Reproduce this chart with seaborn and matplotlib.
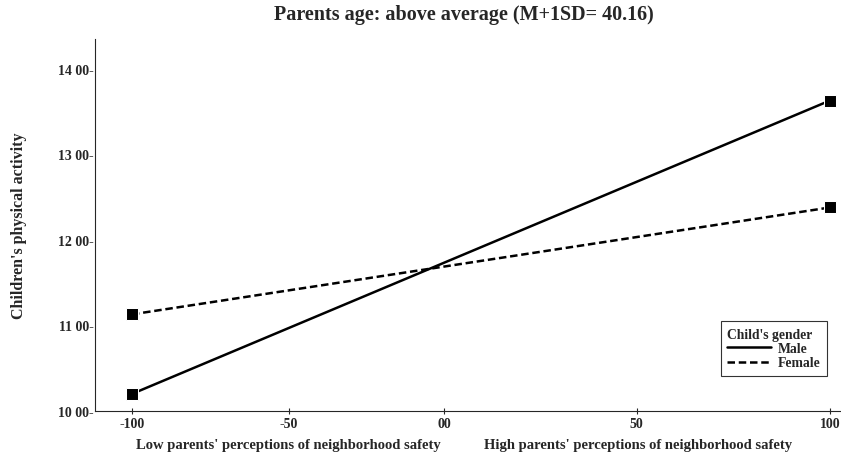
import pandas as pd
import matplotlib
matplotlib.use("Agg")
import matplotlib.pyplot as plt
import seaborn as sns
from matplotlib.lines import Line2D

# Data
safety = [-1.0, 1.0]
male = [10.20, 13.63]
female = [11.13, 12.38]
genders = ["Male", "Female"]
# tick marks on the reference are not evenly spaced; positions
x_ticks = [-1.0, -0.551, -0.106, 0.446, 1.0]
x_tick_labels = ["-100", "-50", "00", "50", "100"]
y_ticks = [10, 11, 12, 13, 14]
y_tick_labels = ["10 00", "11 00", "12 00", "13 00", "14 00"]

df = pd.DataFrame({
    "safety": safety * 2,
    "activity": male + female,
    "gender": [genders[0]] * 2 + [genders[1]] * 2,
})

sns.set_theme(style="ticks")
plt.rcParams["font.family"] = ["Liberation Serif", "DejaVu Serif"]
plt.rcParams["font.weight"] = "bold"

fig = plt.figure(figsize=(8.41, 4.56), dpi=100)
ax = fig.add_axes([95 / 841, 44 / 456, 745 / 841, 372 / 456])

sns.lineplot(data=df, x="safety", y="activity", style="gender",
             style_order=genders, dashes={"Male": "", "Female": (3, 1.5)},
             markers={"Male": "s", "Female": "s"}, color="black",
             markersize=8, linewidth=1.8, ax=ax, legend=False)

ax.set_xlim(-1.106, 1.029)
ax.set_ylim(10.0, 14.35)
ax.set_xticks(x_ticks)
ax.set_xticklabels(x_tick_labels, fontsize=10, fontweight="bold")
ax.set_yticks(y_ticks)
ax.set_yticklabels([t + "-" for t in y_tick_labels], fontsize=10, fontweight="bold")
ax.tick_params(axis="y", length=0, pad=1)
ax.tick_params(axis="x", direction="inout", length=5, width=0.8, pad=2)
ax.set_xlabel("")
ax.set_ylabel("Children's physical activity", fontsize=11.5, fontweight="bold", labelpad=22)
sns.despine(ax=ax)
ax.spines["left"].set_linewidth(0.8)
ax.spines["bottom"].set_linewidth(0.8)

fig.suptitle("Parents age: above average (M+1SD= 40.16)", x=0.551, y=0.99,
             fontsize=14.5, fontweight="bold")

fig.text(288 / 841, 1 - 446 / 456, "Low parents' perceptions of neighborhood safety",
         ha="center", va="center", fontsize=10.5)
fig.text(638 / 841, 1 - 446 / 456, "High parents' perceptions of neighborhood safety",
         ha="center", va="center", fontsize=10.5)

handles = [Line2D([0], [0], color="black", lw=1.8, ls="-"),
           Line2D([0], [0], color="black", lw=1.8, ls=(0, (3, 1.5)))]
leg = ax.legend(handles, genders, title="Child's gender", loc="lower right",
                bbox_to_anchor=(0.992, 0.075), frameon=True, fancybox=False,
                edgecolor="black", fontsize=9.8, title_fontsize=9.8,
                handlelength=3.2, borderpad=0.5, labelspacing=0.1,
                handletextpad=0.5)
leg.get_title().set_fontweight("bold")
leg._legend_box.align = "left"
leg.get_frame().set_linewidth(0.8)

fig.savefig("out.png", dpi=100)
